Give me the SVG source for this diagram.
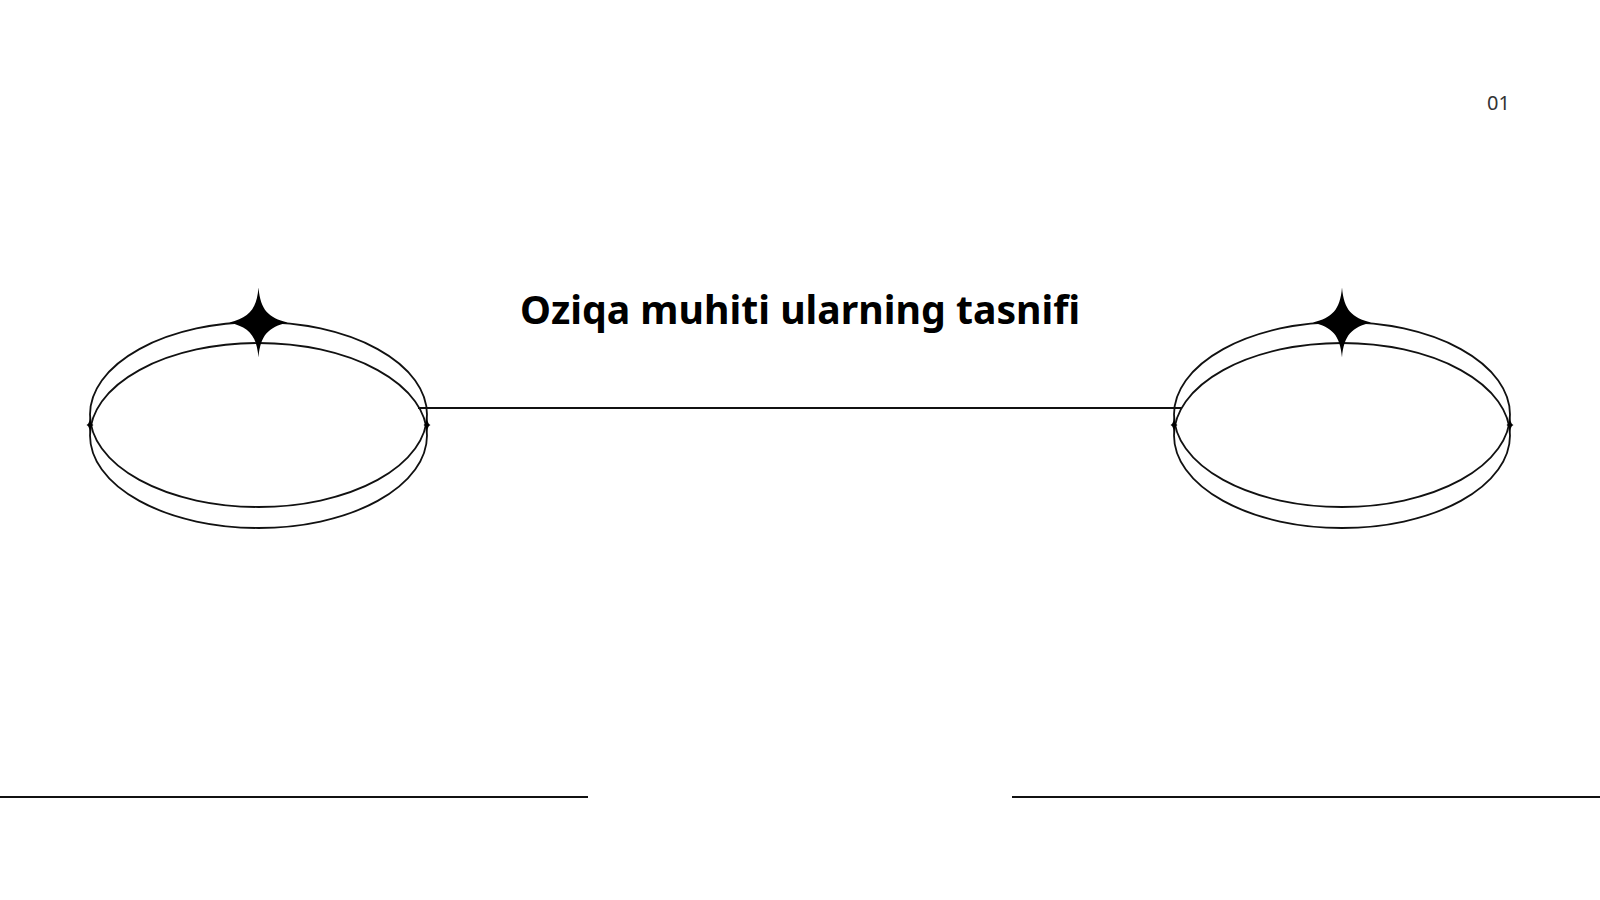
<svg xmlns="http://www.w3.org/2000/svg" width="1600" height="900" viewBox="0 0 1600 900">
<style>
.ring{fill:none;stroke:#111;stroke-width:1.8}
.line{stroke:#111;stroke-width:1.8;fill:none}
.star{fill:#000}
.title{font-family:"Noto Sans","Open Sans",sans-serif;font-weight:700;font-size:39.2px;fill:#000}
.num{font-family:"Noto Sans","Open Sans",sans-serif;font-size:20px;fill:#333}
</style>
<defs>
<path id="bigstar" d="M0,-35 C2,-12 10,-5 29,0 C10,5 2,12 0,35 C-2,12 -10,5 -29,0 C-10,-5 -2,-12 0,-35 Z"/>
<path id="smallstar" d="M0,-10 C0.6,-3 1.2,-1.2 3.5,0 C1.2,1.2 0.6,3 0,10 C-0.6,3 -1.2,1.2 -3.5,0 C-1.2,-1.2 -0.6,-3 0,-10 Z"/>
</defs>
<rect width="1600" height="900" fill="#fff"/>
<g id="connectors">
<line class="line" x1="418" y1="408" x2="1182" y2="408"/>
<line class="line" x1="0" y1="797" x2="588" y2="797"/>
<line class="line" x1="1012" y1="797" x2="1600" y2="797"/>
</g>
<g id="node-left">
<ellipse class="ring" cx="258.5" cy="414.5" rx="168.5" ry="92.5"/>
<ellipse class="ring" cx="258.5" cy="435.5" rx="168.5" ry="92.5"/>
<use href="#bigstar" class="star" x="258.5" y="322.5"/>
<use href="#smallstar" class="star" x="90" y="425"/>
<use href="#smallstar" class="star" x="427" y="425"/>
</g>
<g id="node-right">
<ellipse class="ring" cx="1342" cy="414.5" rx="168" ry="92.5"/>
<ellipse class="ring" cx="1342" cy="435.5" rx="168" ry="92.5"/>
<use href="#bigstar" class="star" x="1342" y="322.5"/>
<use href="#smallstar" class="star" x="1174" y="425"/>
<use href="#smallstar" class="star" x="1510" y="425"/>
</g>
<g id="title">
<text class="title" x="800" y="324" text-anchor="middle">Oziqa muhiti ularning tasnifi</text>
</g>
<g id="page-number">
<text class="num" x="1510" y="110" text-anchor="end">01</text>
</g>
</svg>
